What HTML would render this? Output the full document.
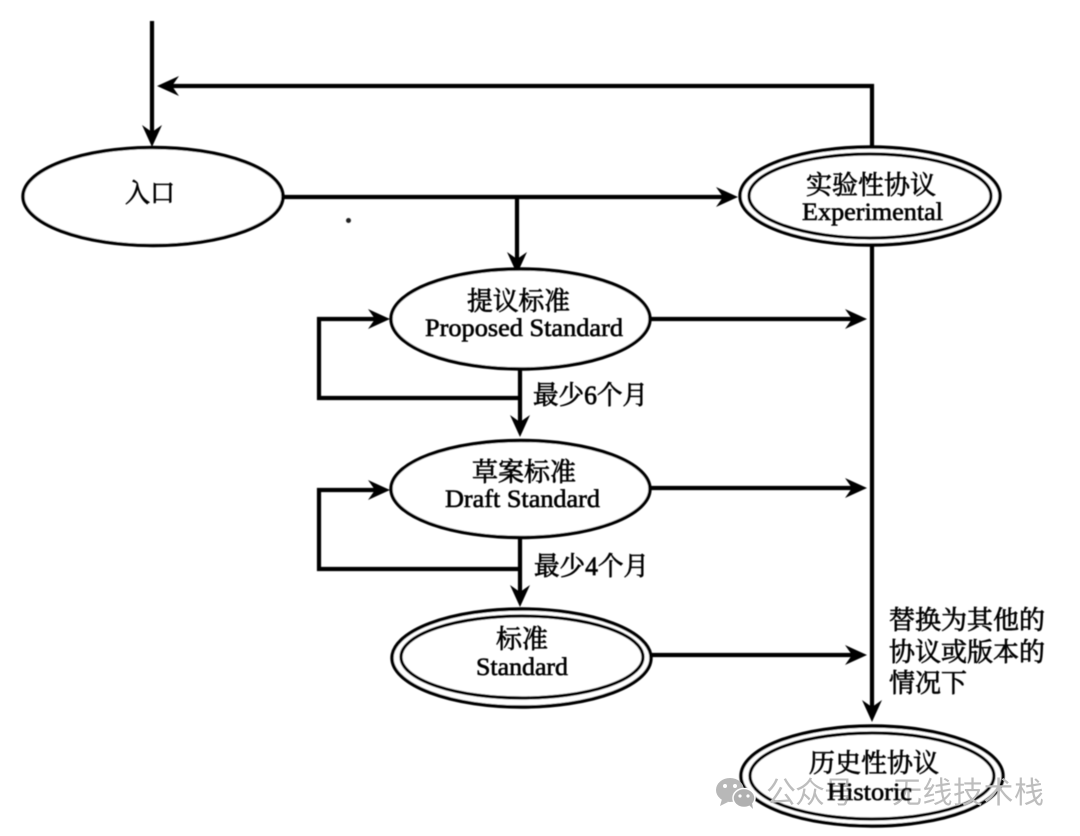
<!DOCTYPE html>
<html><head><meta charset="utf-8"><style>
html,body{margin:0;padding:0;background:#fff}
svg{display:block}
.c{font-family:"Liberation Serif","Noto Serif CJK SC",serif;font-size:26px;fill:#000;stroke:#000;stroke-width:.7}
.e{font-family:"Liberation Serif",serif;font-size:25px;fill:#000;stroke:#000;stroke-width:.6}
.w{font-family:"Liberation Sans","Noto Sans CJK SC",sans-serif;font-size:30px;fill:#bdbdbd}
.l{fill:none;stroke:#050505;stroke-width:4.2}
.o{fill:#fff;stroke:#050505;stroke-width:3.4}
.i{fill:#fff;stroke:#050505;stroke-width:3.2}
</style></head><body>
<svg width="1080" height="836" viewBox="0 0 1080 836" xmlns="http://www.w3.org/2000/svg">
<defs>
<filter id="b" x="-2%" y="-2%" width="104%" height="104%"><feGaussianBlur stdDeviation="0.45"/></filter>
<path id="ar" d="M0 0L-22 -10L-15 0L-22 10Z" fill="#050505"/>
</defs>
<rect width="1080" height="836" fill="#fff"/>
<g filter="url(#b)">
<path class="l" d="M152 21V135"/>
<use href="#ar" transform="translate(152 147) rotate(90)"/>
<path class="l" d="M872 167V86H170"/>
<use href="#ar" transform="translate(157 86) rotate(180)"/>
<path class="l" d="M283 197H725"/>
<use href="#ar" transform="translate(738 197)"/>
<path class="l" d="M517 197V262"/>
<use href="#ar" transform="translate(517 274) rotate(90)"/>
<path class="l" d="M872 245V710"/>
<use href="#ar" transform="translate(872 722) rotate(90)"/>
<path class="l" d="M650 319H855"/>
<use href="#ar" transform="translate(867 319)"/>
<path class="l" d="M650 488H855"/>
<use href="#ar" transform="translate(867 488)"/>
<path class="l" d="M651 655H855"/>
<use href="#ar" transform="translate(867 655)"/>
<path class="l" d="M520 369V425"/>
<use href="#ar" transform="translate(520 437) rotate(90)"/>
<path class="l" d="M520 398H319V319H378"/>
<use href="#ar" transform="translate(390 319)"/>
<path class="l" d="M520 537V595"/>
<use href="#ar" transform="translate(520 607) rotate(90)"/>
<path class="l" d="M520 569H319V490H378"/>
<use href="#ar" transform="translate(390 490)"/>
<ellipse class="o" cx="153" cy="196.5" rx="130" ry="49"/>
<ellipse class="o" cx="870" cy="196" rx="130" ry="49"/>
<ellipse class="i" cx="870" cy="196" rx="121" ry="42"/>
<ellipse class="o" cx="520.5" cy="319" rx="129.5" ry="50"/>
<ellipse class="o" cx="520.5" cy="489" rx="129.5" ry="48.5"/>
<ellipse class="o" cx="521.5" cy="658" rx="129.5" ry="49"/>
<ellipse class="i" cx="522" cy="657" rx="121" ry="41"/>
<ellipse class="o" cx="872" cy="776" rx="131" ry="50"/>
<ellipse class="i" cx="872" cy="776" rx="122" ry="43"/>
<circle cx="348.500" cy="220.500" r="2.500" fill="#222"/>
</g>
<g>
<ellipse cx="730" cy="790" rx="14" ry="12" fill="#b8b8b8"/>
<path d="M722 799l-2 7 8-4z" fill="#b8b8b8"/>
<ellipse cx="744" cy="798" rx="11" ry="9.500" fill="#b0b0b0" stroke="#fff" stroke-width="1.500"/>
<path d="M749 805l4 4-1-6z" fill="#b0b0b0"/>
<circle cx="725" cy="786" r="2" fill="#fff"/><circle cx="735" cy="786" r="2" fill="#fff"/>
<circle cx="740" cy="796" r="1.600" fill="#fff"/><circle cx="748" cy="796" r="1.600" fill="#fff"/>
<text class="w" x="766" y="803" textLength="88" lengthAdjust="spacing">公众号</text>
<text class="w" x="892" y="803" textLength="152" lengthAdjust="spacing">无线技术栈</text>
</g>
<g filter="url(#b)">
<text class="c" x="125" y="202" textLength="50" lengthAdjust="spacingAndGlyphs">入口</text>
<text class="c" x="806" y="194" textLength="130" lengthAdjust="spacingAndGlyphs">实验性协议</text>
<text class="e" x="802" y="220" textLength="141" lengthAdjust="spacingAndGlyphs">Experimental</text>
<text class="c" x="467" y="310" textLength="103" lengthAdjust="spacingAndGlyphs">提议标准</text>
<text class="e" x="425" y="336" textLength="198" lengthAdjust="spacingAndGlyphs">Proposed Standard</text>
<text class="c" x="472" y="481" textLength="104" lengthAdjust="spacingAndGlyphs">草案标准</text>
<text class="e" x="445" y="507" textLength="155" lengthAdjust="spacingAndGlyphs">Draft Standard</text>
<text class="c" x="496" y="648" textLength="52" lengthAdjust="spacingAndGlyphs">标准</text>
<text class="e" x="476" y="675" textLength="92" lengthAdjust="spacingAndGlyphs">Standard</text>
<text class="c" x="809" y="772" textLength="130" lengthAdjust="spacingAndGlyphs">历史性协议</text>
<text class="e" x="827" y="800" textLength="85" lengthAdjust="spacingAndGlyphs">Historic</text>
<text class="c" x="533" y="404" textLength="115" lengthAdjust="spacingAndGlyphs">最少6个月</text>
<text class="c" x="534" y="575" textLength="115" lengthAdjust="spacingAndGlyphs">最少4个月</text>
<text class="c" x="889" y="629" textLength="156" lengthAdjust="spacingAndGlyphs">替换为其他的</text>
<text class="c" x="889" y="661" textLength="156" lengthAdjust="spacingAndGlyphs">协议或版本的</text>
<text class="c" x="889" y="692" textLength="78" lengthAdjust="spacingAndGlyphs">情况下</text>
</g>
</svg>
</body></html>
